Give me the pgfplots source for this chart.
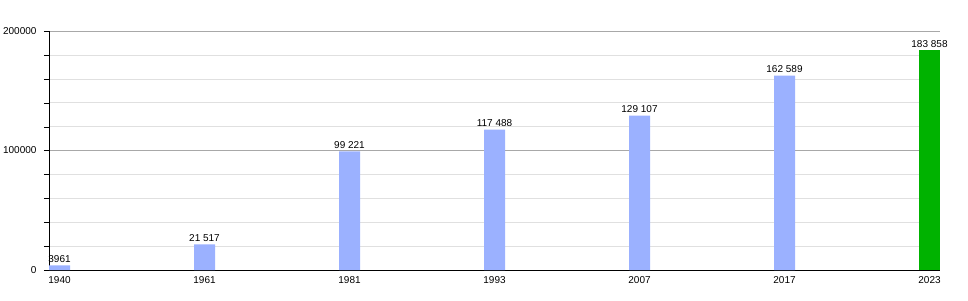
\documentclass[border=0pt]{standalone}
\usepackage{pgfplots}
\pgfplotsset{compat=1.18}
\usepackage{fontspec}
\setmainfont{Liberation Sans}
\definecolor{barblue}{RGB}{155,177,255}
\definecolor{bargreen}{RGB}{0,178,0}
\definecolor{minorgrid}{RGB}{224,224,224}
\definecolor{majorgrid}{RGB}{168,168,168}
\begin{document}
\begin{tikzpicture}
\path[use as bounding box] (-49pt,-30pt) rectangle (919pt,270pt);
\begin{axis}[
  at={(0,0)}, anchor=south west,
  scale only axis, width=891pt, height=239pt,
  font=\fontsize{10}{12}\selectfont,
  xmin=-0.0725, xmax=6.0725,
  ymin=0, ymax=200000,
  axis x line=bottom, axis y line=left,
  axis line style={-, black},
  xtick={0,1,2,3,4,5,6},
  xticklabels={1940,1961,1981,1993,2007,2017,2023},
  major x tick style={draw=none},
  xticklabel style={yshift=2pt},
  ytick={0,100000,200000},
  yticklabels={0,100000,200000},
  minor ytick={20000,40000,60000,80000,120000,140000,160000,180000},
  tick align=outside,
  major tick length=5pt, minor tick length=5pt,
  y tick style={black},
  ymajorgrids, yminorgrids,
  major grid style={majorgrid, line width=0.6pt},
  minor grid style={minorgrid, line width=0.6pt},
  yticklabel style={xshift=-4pt},
  scaled y ticks=false,
  ybar, bar width=21pt, bar shift=0pt,
  nodes near coords, point meta=explicit symbolic,
  every node near coord/.style={font=\fontsize{10}{12}\selectfont, text=black, inner sep=2.5pt},
  clip=false,
]
\addplot[fill=barblue, draw=none] coordinates {
  (0,3961) [3961]
  (1,21517) [21~517]
  (2,99221) [99~221]
  (3,117488) [117~488]
  (4,129107) [129~107]
  (5,162589) [162~589]
};
\addplot[fill=bargreen, draw=none] coordinates {
  (6,183858) [183~858]
};
\end{axis}
\end{tikzpicture}
\end{document}
